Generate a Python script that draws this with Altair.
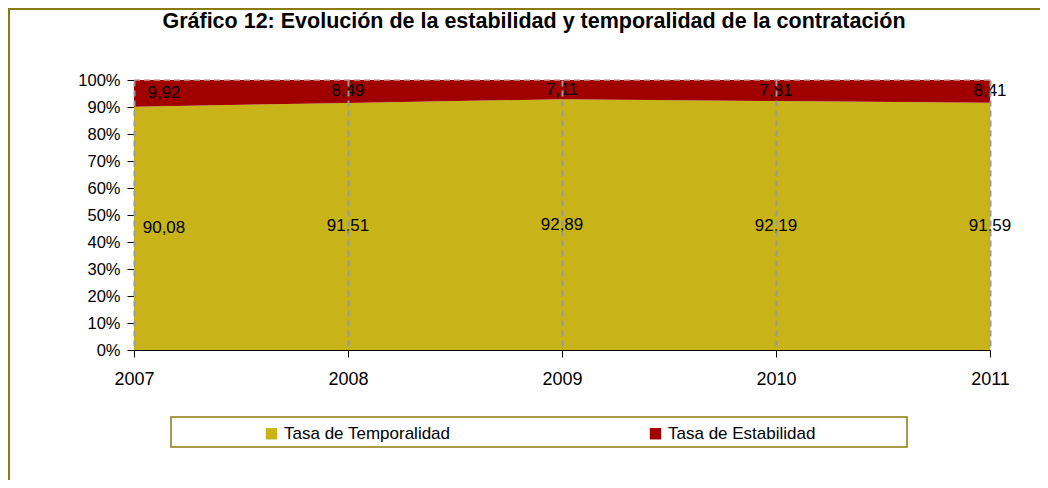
import altair as alt
import pandas as pd

years = [2007, 2008, 2009, 2010, 2011]
temporalidad = [90.08, 91.51, 92.89, 92.19, 91.59]
estabilidad = [9.92, 8.49, 7.11, 7.81, 8.41]
series = ["Tasa de Temporalidad", "Tasa de Estabilidad"]
colors = ["#C8B418", "#A00000"]
y_ticks = [0, 10, 20, 30, 40, 50, 60, 70, 80, 90, 100]

rows = []
for i, y in enumerate(years):
    rows.append({"year": y, "serie": series[0], "value": temporalidad[i], "orden": 0})
    rows.append({"year": y, "serie": series[1], "value": estabilidad[i], "orden": 1})
df = pd.DataFrame(rows)

FONT = "Liberation Sans"
OLIVE = "#8B7A10"

x_axis = alt.Axis(values=years, format="d", title=None, grid=True,
                  gridDash=[6, 4], gridColor="#9a9a9a", gridWidth=2,
                  domainColor="black", tickColor="black", tickSize=7,
                  labelPadding=13, labelFontSize=18, labelColor="black",
                  labelFont=FONT, labelFlush=False, labelOverlap=False,
                  zindex=1)
y_axis = alt.Axis(values=y_ticks, labelExpr="datum.value + '%'", title=None,
                  grid=False, domainColor="black", tickColor="black",
                  tickSize=7, labelPadding=7, labelFontSize=16.5,
                  labelColor="black", labelFont=FONT,
                  labelOverlap=False, labelFlush=False)
x_scale = alt.Scale(domain=[2007, 2011], nice=False)
y_scale = alt.Scale(domain=[0, 100], nice=False)

area = alt.Chart(df).mark_area(opacity=1).encode(
    x=alt.X("year:Q", scale=x_scale, axis=x_axis),
    y=alt.Y("value:Q", stack="zero", scale=y_scale, axis=y_axis),
    color=alt.Color("serie:N", scale=alt.Scale(domain=series, range=colors),
                    legend=alt.Legend(title=None, orient="none", legendX=129, legendY=345,
                                      direction="horizontal", columns=2,
                                      columnPadding=196, symbolType="square",
                                      symbolSize=130, symbolStrokeWidth=0,
                                      symbolOpacity=1,
                                      labelFontSize=17, labelFont=FONT,
                                      labelColor="black", labelOffset=4,
                                      labelLimit=400, padding=0)),
    order=alt.Order("orden:Q"),
)

top_rule = alt.Chart(pd.DataFrame({"v": [100]})).mark_rule(
    strokeDash=[6, 4], color="#c9a0a0", strokeWidth=1.5
).encode(y=alt.Y("v:Q", scale=y_scale, axis=y_axis))

base_txt = alt.Chart(df).transform_stack(
    stack="value", groupby=["year"], as_=["v0", "v1"],
    sort=[alt.SortField("orden", "ascending")]
).transform_calculate(
    mid="(datum.v0 + datum.v1) / 2",
    lab="replace(format(datum.value, '.2f'), '.', ',')"
)

txt_first = base_txt.transform_filter("datum.year == 2007").mark_text(
    fontSize=17, font=FONT, color="black", dx=30
).encode(x=alt.X("year:Q", scale=x_scale, axis=x_axis),
         y=alt.Y("mid:Q", scale=y_scale, axis=y_axis), text="lab:N")

txt_rest = base_txt.transform_filter("datum.year != 2007").mark_text(
    fontSize=17, font=FONT, color="black"
).encode(x=alt.X("year:Q", scale=x_scale, axis=x_axis),
         y=alt.Y("mid:Q", scale=y_scale, axis=y_axis), text="lab:N")

legend_box = alt.Chart(pd.DataFrame({"a": [0]})).mark_rect(
    fill="white", stroke=OLIVE, strokeWidth=1.5
).encode(x=alt.value(37), x2=alt.value(773), y=alt.value(337), y2=alt.value(367))

frame_left = alt.Chart(pd.DataFrame({"a": [0]})).mark_rule(
    color=OLIVE, strokeWidth=2
).encode(x=alt.value(-125), y=alt.value(-72), y2=alt.value(500))
frame_top = alt.Chart(pd.DataFrame({"a": [0]})).mark_rule(
    color=OLIVE, strokeWidth=2
).encode(x=alt.value(-126), x2=alt.value(1000), y=alt.value(-71))

chart = alt.layer(
    legend_box, frame_left, frame_top, area, top_rule, txt_first, txt_rest
).properties(
    width=856, height=270,
    padding={"left": 126, "top": 72, "right": 50, "bottom": 130},
    autosize=alt.AutoSizeParams(type="none"),
    title=alt.TitleParams(
        "Gráfico 12: Evolución de la estabilidad y temporalidad de la contratación",
        fontSize=21.5, font=FONT, fontWeight="bold", color="black",
        anchor="middle", dx=-28, offset=-25,
    ),
).configure_view(stroke=None).configure(background="white")

chart.save("out.html", embed_options={"renderer": "svg", "actions": False})
